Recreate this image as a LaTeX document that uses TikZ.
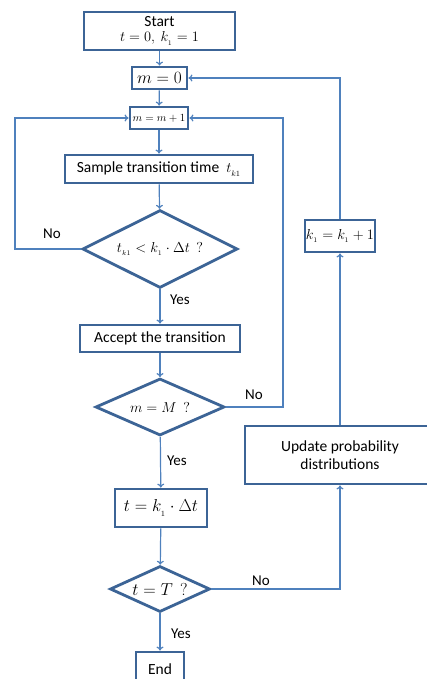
\documentclass[tikz,border=0pt]{standalone}
\usepackage{amsmath}
\usepackage{fontspec}
\setmainfont{Carlito}
\usepackage{tikz}
\usetikzlibrary{shapes.geometric,arrows.meta}
\definecolor{boxblue}{HTML}{3C6496}
\definecolor{lineblue}{HTML}{4F81BD}

\begin{document}
\begin{tikzpicture}[x=1pt,y=-1pt,
    box/.style={draw=boxblue,line width=2.8pt,fill=white,inner sep=0pt,font=\fontsize{15.5}{18}\selectfont},
    cond/.style={diamond,draw=boxblue,line width=2.8pt,fill=white,inner sep=0pt},
    flow/.style={draw=lineblue,line width=1.2pt,-{To[length=4pt,width=7pt]}},
    lbl/.style={font=\fontsize{15}{17}\selectfont}]
      \useasboundingbox (0,0) rectangle (427,679);
      \clip (0,0) rectangle (427,679);

      \path
      (159.5,31) node[box,minimum width=151,minimum height=38,align=center](start)
        {Start\\[-3pt]{\fontsize{14}{16}\selectfont$t=0,\ k_{_1}=1$}}
      (159.5,78) node[box,minimum width=55,minimum height=22,font=\fontsize{16}{18}\selectfont](m0) {$m=0$}
      (159,118) node[box,minimum width=58,minimum height=22,font=\fontsize{11}{13}\selectfont](mm1) {$m=m+1$}
      (159,169) node[box,minimum width=188,minimum height=28](sample) {Sample transition time \ $t_{_{k1}}$}
      (160,249) node[cond,aspect=2,minimum width=155,minimum height=78,font=\fontsize{14}{16}\selectfont](check) {$t_{_{k1}}<k_{_1}\cdot\Delta t\ \ ?$}
      (160,338.5) node[box,minimum width=160,minimum height=27](accept) {Accept the transition}
      (160,407) node[cond,aspect=2.26,minimum width=129,minimum height=57,font=\fontsize{15}{17}\selectfont](mM) {$m=M\ \ ?$}
      (161,508) node[box,minimum width=92,minimum height=38,font=\fontsize{17}{19}\selectfont](tk) {$t=k_{_1}\cdot\Delta t$}
      (160,589) node[cond,aspect=2.17,minimum width=100,minimum height=46,font=\fontsize{16}{18}\selectfont](tT) {$t=T\ \ ?$}
      (160,669) node[box,minimum width=48,minimum height=34](end) {End}
      (340,236) node[box,minimum width=70,minimum height=32,font=\fontsize{15}{17}\selectfont](kk) {$k_{_1}=k_{_1}+1$}
      (340,455) node[box,minimum width=190,minimum height=58,align=center](upd)
        {Update probability\\distributions}
      ;
      \coordinate (lloop) at (15,249);
      \coordinate (rloop) at (283,407);

      \draw[flow] (start) -- (m0);
      \draw[flow] (m0) -- (mm1);
      \draw[flow] (mm1) -- (sample);
      \draw[flow] (sample) -- (check);
      \draw[flow] (check.west) -- (lloop) |- (mm1.west);
      \draw[flow] (check) -- (accept);
      \draw[flow] (accept) -- (mM);
      \draw[flow] (mM.east) -- (rloop) |- (mm1.east);
      \draw[flow] (mM) -- (tk);
      \draw[flow] (tk) -- (tT);
      \draw[flow] (tT.east) -| (upd.south);
      \draw[flow] (upd.north) -- (kk.south);
      \draw[flow] (kk.north) |- (m0.east);
      \draw[flow] (tT) -- (end);

      \path
      (52,234) node[lbl] {No}
      (180,300) node[lbl] {Yes}
      (254,395) node[lbl] {No}
      (177,461) node[lbl] {Yes}
      (261,581) node[lbl] {No}
      (181,634) node[lbl] {Yes}
      ;
\end{tikzpicture}
\end{document}
